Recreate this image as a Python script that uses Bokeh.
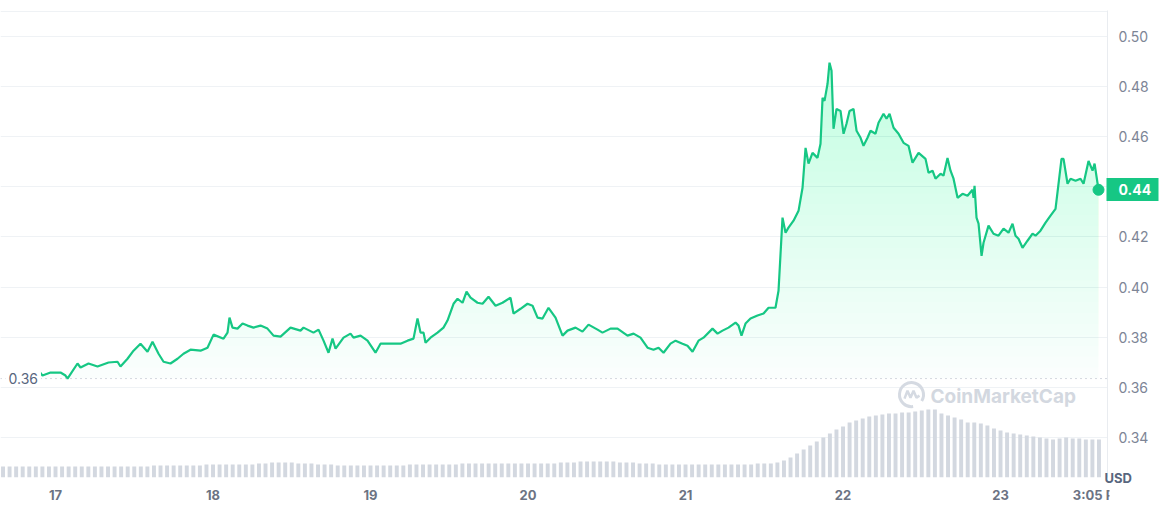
import numpy as np
from bokeh.plotting import figure
from bokeh.models import FixedTicker, PrintfTickFormatter, Range1d, Label, Span, LinearAxis
from bokeh.embed import file_html
from bokeh.resources import INLINE

# ---- data (hours since 17 Mar 00:00, price in USD) ----
hours = [-2.44,-1.98,-0.76,0.76,1.52,1.83,3.35,3.81,5.03,6.40,8.08,9.45,9.90,10.97,11.89,12.95,14.02,14.78,15.70,16.46,
         17.52,18.59,19.50,20.57,22.10,23.16,24.08,25.60,26.21,26.51,26.97,27.73,28.50,29.26,30.17,31.24,32.30,33.22,34.29,35.81,
         37.33,37.79,39.31,40.08,40.84,41.60,42.21,42.67,43.89,44.95,45.41,46.48,47.54,48.76,49.52,51.05,52.57,53.64,54.55,55.16,
         55.62,56.08,56.38,57.14,58.21,59.12,59.73,60.65,61.26,62.02,62.63,63.24,64.30,65.07,65.98,67.05,68.11,69.33,69.79,70.86,
         71.92,72.69,73.45,74.21,75.12,76.19,77.26,78.02,79.24,80.30,81.22,82.59,83.35,84.57,85.64,87.16,88.08,89.14,90.21,91.12,
         91.89,92.65,93.71,94.48,95.54,96.30,97.07,97.98,98.74,100.11,100.88,101.64,102.55,103.62,104.08,104.53,105.14,105.90,106.97,107.89,
         108.65,109.71,110.17,110.78,111.24,111.69,112.46,113.22,113.83,114.29,114.74,115.35,116.11,116.57,116.88,117.18,117.64,117.94,118.25,118.55,
         119.01,119.62,120.08,120.53,120.99,121.60,122.06,122.67,123.12,123.73,124.19,124.95,125.41,126.17,126.63,127.09,127.70,128.46,129.22,129.98,
         130.59,131.51,132.57,133.03,133.64,134.09,134.86,135.31,135.92,136.38,136.84,137.45,138.21,138.97,139.73,139.89,140.04,140.34,140.65,141.11,
         141.41,142.17,142.93,143.69,144.46,145.22,145.83,146.28,146.74,147.35,148.11,148.88,149.33,150.09,150.86,151.62,152.38,152.84,153.29,153.60,
         154.21,154.67,155.43,156.19,156.65,157.41,158.02,158.33,158.93]
price = [0.3664,0.3648,0.3660,0.3660,0.3648,0.3636,0.3696,0.3680,0.3696,0.3684,0.3700,0.3703,0.3684,0.3715,0.3747,0.3775,0.3743,0.3783,0.3735,0.3703,
         0.3696,0.3715,0.3735,0.3751,0.3747,0.3759,0.3811,0.3795,0.3819,0.3879,0.3839,0.3835,0.3855,0.3847,0.3839,0.3847,0.3835,0.3807,0.3803,0.3839,
         0.3827,0.3839,0.3819,0.3831,0.3787,0.3739,0.3795,0.3755,0.3799,0.3815,0.3799,0.3807,0.3787,0.3739,0.3775,0.3775,0.3775,0.3787,0.3795,0.3875,
         0.3819,0.3819,0.3779,0.3799,0.3819,0.3839,0.3867,0.3934,0.3954,0.3938,0.3982,0.3958,0.3938,0.3934,0.3962,0.3926,0.3938,0.3958,0.3895,0.3914,
         0.3934,0.3926,0.3879,0.3875,0.3918,0.3879,0.3807,0.3827,0.3839,0.3823,0.3851,0.3831,0.3819,0.3835,0.3835,0.3807,0.3815,0.3799,0.3759,0.3751,
         0.3759,0.3739,0.3775,0.3787,0.3775,0.3767,0.3743,0.3787,0.3799,0.3835,0.3815,0.3827,0.3839,0.3859,0.3847,0.3807,0.3855,0.3875,0.3887,0.3895,
         0.3918,0.3918,0.3986,0.4277,0.4217,0.4237,0.4265,0.4304,0.4396,0.4555,0.4492,0.4535,0.4515,0.4571,0.4754,0.4742,0.4810,0.4894,0.4862,0.4631,
         0.4710,0.4702,0.4611,0.4651,0.4702,0.4710,0.4623,0.4595,0.4563,0.4595,0.4623,0.4611,0.4655,0.4691,0.4671,0.4691,0.4635,0.4611,0.4575,0.4563,
         0.4496,0.4535,0.4511,0.4456,0.4464,0.4432,0.4452,0.4444,0.4515,0.4464,0.4432,0.4356,0.4372,0.4364,0.4388,0.4356,0.4404,0.4277,0.4253,0.4125,
         0.4177,0.4245,0.4213,0.4205,0.4233,0.4217,0.4253,0.4205,0.4193,0.4157,0.4185,0.4213,0.4205,0.4225,0.4257,0.4285,0.4312,0.4412,0.4511,0.4511,
         0.4412,0.4432,0.4424,0.4432,0.4412,0.4503,0.4464,0.4492,0.4388]

# hourly volume (relative units), starting at hour -8
volume = [11]*23 + [12]*8 + [13]*8 + \
         [14,14,15,15,15,15,14,14,14,13] + \
         [13,13,12,12,12,12,12,12,12,12,12,12,12,13,13,13,13,13,13,13] + \
         [13,14,14,14,14,14,14,14,14,14,14,14,14,14,14] + \
         [14,15,15,15,16,16,16,16,16,16,15,15,15,14,14] + \
         [14,13,13,13,13,13,13,13,13,13,13,13,13,13,13,13,14,14,14,15] + \
         [17,20,24,28,32,36,40,44,48,51,55,57,59,61,62,63,64,64,65,65,
          66,67,68,68,64,62,60,58,55,55,54,52,49,47,45,44,43,42,41,40,
          39,38,39,40,39,39,38,38,38]
vol_start_hour = -8

open_price = 0.3636
x_tick_minutes = [0, 1440, 2880, 4320, 5760, 7200, 8640, 9545]
x_tick_labels = ["17", "18", "19", "20", "21", "22", "23", "3:05 PM"]
y_ticks = [0.34, 0.36, 0.38, 0.40, 0.42, 0.44, 0.46, 0.48, 0.50]
unit_label = "USD"

GREEN = "#16c784"
FONT = "Inter"

n = min(len(hours), len(price))
t = np.array(hours[:n]) * 60.0
pr = np.array(price[:n])
vt = (np.arange(len(volume)) + vol_start_hour) * 60.0
vv = np.array(volume, dtype=float)

p = figure(width=1162, height=512, output_backend="svg", toolbar_location=None,
           x_range=Range1d(-503, 9618), y_range=Range1d(0.3242, 0.5102),
           y_axis_location="right", min_border_left=0, min_border_top=10,
           min_border_right=55, min_border_bottom=35, background_fill_color="white",
           border_fill_color="white")
p.outline_line_color = None

# volume on its own range
p.extra_y_ranges = {"vol": Range1d(0, 467)}
p.vbar(x=vt, top=vv, bottom=0, width=36, y_range_name="vol",
       fill_color="#d3d8e0", line_color=None)

# gradient fill under the price line down to the opening price
tf = np.linspace(t[0], t[-1], 4000)
pf = np.interp(tf, t, pr)
levels = np.linspace(open_price, pr.max(), 30)
for k, lo in enumerate(levels[:-1]):
    a = 0.02 if k == 0 else 0.0095
    p.varea(x=tf, y1=lo, y2=np.maximum(pf, lo), fill_color=GREEN, fill_alpha=a)

p.add_layout(Span(location=open_price, dimension="width", line_color="#a9b1c0",
                  line_dash="1 4", line_width=1))

p.line(t, pr, line_color=GREEN, line_width=2.2)
p.scatter([t[-1]], [pr[-1]], size=11, fill_color=GREEN, line_color=GREEN)

# watermark
PXX = 1 / 0.10938
PXY = 1 / 2511.0
cx, cy = 7826, 0.3572
p.arc(x=[cx], y=[cy], radius=12, radius_units="screen", start_angle=-0.55,
      end_angle=4.85, line_color="#d5dae2", line_width=3)
m_dx = [-7, -4, -1, 2, 5, 8]
m_dy = [-4, 4, -3, 4, -3, -1]
p.line([cx + d * PXX for d in m_dx], [cy + d * PXY for d in m_dy],
       line_color="#d5dae2", line_width=2.5)
p.add_layout(Label(x=930, x_units="screen", y=0.3564, text="CoinMarketCap",
                   text_font=FONT, text_font_size="19px", text_font_style="bold",
                   text_color="#d3d8e0", text_baseline="middle"))

# axes
p.xgrid.grid_line_color = None
p.ygrid.ticker = FixedTicker(ticks=y_ticks + [0.51])
p.ygrid.grid_line_color = "#eff2f5"

ya = p.yaxis[0]
ya.ticker = FixedTicker(ticks=y_ticks)
ya.formatter = PrintfTickFormatter(format="%.2f")
ya.axis_line_color = "#e9ecf0"
ya.major_tick_line_color = None
ya.minor_tick_line_color = None
ya.major_tick_out = 0
ya.major_tick_in = 0
ya.minor_tick_out = 0
ya.major_label_standoff = 11
ya.major_label_text_font = FONT
ya.major_label_text_font_size = "14px"
ya.major_label_text_color = "#7d8596"

xa = p.xaxis[0]
xa.ticker = FixedTicker(ticks=x_tick_minutes)
xa.major_label_overrides = {k: v for k, v in zip(x_tick_minutes, x_tick_labels)}
xa.axis_line_color = None
xa.major_tick_line_color = None
xa.minor_tick_line_color = None
xa.major_tick_out = 0
xa.major_tick_in = 0
xa.minor_tick_out = 0
xa.major_label_standoff = 9
xa.major_label_text_font = FONT
xa.major_label_text_font_size = "13px"
xa.major_label_text_font_style = "bold"
xa.major_label_text_color = "#6c7383"

# current price tag (green box drawn with a thick tick)
tag = LinearAxis(ticker=FixedTicker(ticks=[float(pr[-1])]),
                 formatter=PrintfTickFormatter(format="%.2f"))
tag.axis_line_color = None
tag.minor_tick_line_color = None
tag.minor_tick_out = 0
tag.major_tick_line_color = GREEN
tag.major_tick_line_width = 23
tag.major_tick_in = 46
tag.major_tick_out = 6
tag.major_label_standoff = -40
tag.major_label_text_font = FONT
tag.major_label_text_font_size = "14px"
tag.major_label_text_font_style = "bold"
tag.major_label_text_color = "white"
p.add_layout(tag, "right")

# currency unit at the bottom right (white tick masks overflow)
unit = LinearAxis(y_range_name="vol", ticker=FixedTicker(ticks=[0]),
                  major_label_overrides={0: unit_label})
unit.axis_line_color = None
unit.minor_tick_line_color = None
unit.minor_tick_out = 0
unit.major_tick_line_color = "white"
unit.major_tick_line_width = 46
unit.major_tick_in = 45
unit.major_tick_out = 10
unit.major_label_standoff = -60
unit.major_label_text_font = FONT
unit.major_label_text_font_size = "13px"
unit.major_label_text_font_style = "bold"
unit.major_label_text_color = "#58667e"
unit.major_label_text_baseline = "top"
p.add_layout(unit, "right")

# opening price label
p.add_layout(Label(x=5, x_units="screen", y=open_price, text="0.36", text_font=FONT,
                   text_font_size="14px", text_color="#58667e", text_baseline="middle",
                   background_fill_color="white", padding=3))

open("out.html", "w").write(file_html(p, INLINE))
